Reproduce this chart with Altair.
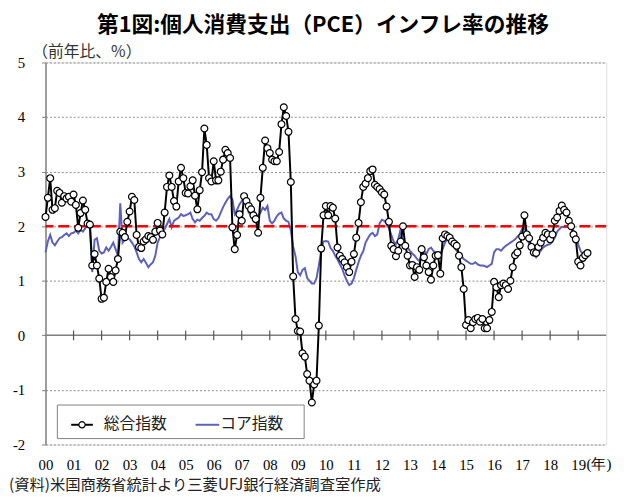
import altair as alt
import pandas as pd

# ---- data (monthly, Jan 2000 - May 2019), YoY %
headline = [
    2.17, 2.52, 2.88, 2.30, 2.33, 2.65, 2.61, 2.43, 2.55, 2.51, 2.54, 2.45,
    2.58, 2.39, 1.97, 2.24, 2.47, 2.30, 2.05, 2.03, 1.28, 1.49, 1.28, 1.04,
    0.67, 0.69, 0.98, 1.22, 1.07, 0.98, 1.19, 1.40, 1.90, 1.88, 1.80, 2.08,
    2.27, 2.54, 2.48, 1.84, 1.62, 1.60, 1.72, 1.76, 1.82, 1.80, 1.75, 1.90,
    2.06, 1.92, 1.85, 2.25, 2.72, 2.93, 2.72, 2.46, 2.36, 2.82, 3.07, 2.88,
    2.61, 2.60, 2.73, 2.84, 2.56, 2.31, 2.66, 2.99, 3.79, 3.49, 2.88, 2.82,
    3.19, 2.84, 2.84, 3.00, 3.22, 3.40, 3.34, 3.25, 1.98, 1.58, 1.84, 2.22,
    2.10, 2.55, 2.46, 2.37, 2.31, 2.20, 2.13, 1.88, 2.52, 3.07, 3.57, 3.43,
    3.34, 3.22, 3.19, 3.19, 3.36, 3.87, 4.18, 4.02, 3.73, 2.81, 1.08, 0.30,
    0.08, 0.07, -0.33, -0.39, -0.71, -0.83, -1.23, -0.90, -0.83, 0.18, 1.59, 2.20,
    2.37, 2.20, 2.37, 2.34, 2.14, 1.61, 1.46, 1.40, 1.34, 1.25, 1.16, 1.35,
    1.49, 1.79, 2.06, 2.44, 2.72, 2.78, 2.88, 3.01, 3.04, 2.76, 2.72, 2.68,
    2.62, 2.58, 2.36, 2.08, 1.64, 1.58, 1.45, 1.55, 1.72, 2.00, 1.64, 1.46,
    1.28, 1.29, 1.07, 1.25, 1.20, 1.58, 1.43, 1.28, 1.16, 1.02, 1.28, 1.46,
    1.47, 1.13, 1.78, 1.85, 1.82, 1.79, 1.72, 1.68, 1.64, 1.46, 1.25, 0.85,
    0.19, 0.28, 0.13, 0.24, 0.30, 0.32, 0.25, 0.30, 0.13, 0.13, 0.28, 0.43,
    0.98, 0.88, 0.70, 0.92, 0.95, 0.92, 0.85, 1.00, 1.25, 1.47, 1.52, 1.65,
    1.81, 2.20, 1.85, 1.78, 1.62, 1.52, 1.51, 1.62, 1.70, 1.79, 1.88, 1.85,
    1.76, 1.85, 2.10, 2.16, 2.28, 2.38, 2.30, 2.25, 2.10, 2.00, 1.85, 1.76,
    1.35, 1.28, 1.42, 1.47, 1.51,
]

core = [
    1.52, 1.72, 1.84, 1.70, 1.65, 1.72, 1.78, 1.80, 1.84, 1.87, 1.82, 1.87,
    1.88, 1.92, 1.87, 1.93, 1.90, 1.96, 2.02, 2.00, 1.16, 1.75, 1.78, 1.55,
    1.50, 1.52, 1.61, 1.55, 1.62, 1.70, 1.58, 1.46, 2.42, 1.70, 1.76, 1.78,
    1.76, 1.70, 1.63, 1.52, 1.40, 1.34, 1.40, 1.33, 1.25, 1.30, 1.34, 1.46,
    1.70, 1.80, 1.88, 1.95, 2.04, 2.13, 1.98, 2.10, 2.13, 2.16, 2.22, 2.19,
    2.20, 2.22, 2.25, 2.13, 2.07, 2.12, 2.10, 2.15, 2.19, 2.25, 2.22, 2.22,
    2.13, 2.10, 2.15, 2.25, 2.35, 2.43, 2.50, 2.55, 2.49, 2.22, 2.30, 2.40,
    2.46, 2.55, 2.40, 2.25, 2.20, 2.28, 2.22, 2.18, 2.25, 2.34, 2.30, 2.37,
    2.10, 2.05, 2.10, 2.18, 2.23, 2.25, 2.14, 2.10, 2.08, 1.92, 1.63, 1.45,
    1.16, 1.10, 1.20, 1.23, 1.05, 1.00, 0.95, 0.95, 1.05, 1.28, 1.55, 1.72,
    1.73, 1.72, 1.60, 1.55, 1.46, 1.39, 1.30, 1.22, 1.10, 1.00, 0.92, 0.95,
    1.05, 1.20, 1.34, 1.46, 1.54, 1.70, 1.78, 1.85, 1.88, 1.82, 1.85, 2.05,
    2.12, 2.10, 2.04, 1.96, 1.84, 1.72, 1.67, 1.76, 1.95, 1.73, 1.65, 1.61,
    1.55, 1.50, 1.46, 1.40, 1.36, 1.46, 1.55, 1.49, 1.58, 1.61, 1.55, 1.52,
    1.43, 1.50, 1.58, 1.70, 1.76, 1.72, 1.67, 1.61, 1.55, 1.52, 1.46, 1.40,
    1.37, 1.34, 1.31, 1.31, 1.34, 1.30, 1.28, 1.28, 1.27, 1.25, 1.28, 1.31,
    1.52, 1.58, 1.58, 1.55, 1.60, 1.64, 1.67, 1.70, 1.73, 1.76, 1.81, 1.85,
    1.95, 1.98, 1.82, 1.67, 1.58, 1.50, 1.43, 1.49, 1.55, 1.61, 1.64, 1.66,
    1.67, 1.72, 1.79, 1.90, 1.95, 1.99, 1.98, 1.99, 1.99, 1.98, 1.92, 1.85,
    1.67, 1.55, 1.49, 1.49, 1.55,
]

year_starts = [12 * k for k in range(20)]          # month index of each January
year_ticks = [12 * k for k in range(1, 20)]        # tick marks on the zero line
target = [2.0]
zero = [0.0]

title_text = "第1図:個人消費支出（PCE）インフレ率の推移"
y_title = "（前年比、%）"
series_names = ["総合指数", "コア指数"]
source_text = "(資料)米国商務省統計より三菱UFJ銀行経済調査室作成"
year_unit = "(年)"

df = pd.DataFrame({"m": list(range(len(headline))), "headline": headline, "core": core})
ticks_df = pd.DataFrame({"m": year_ticks, "lo": [-0.09] * len(year_ticks), "hi": [0.09] * len(year_ticks)})

SERIF = "Liberation Serif"
JP = "Noto Sans CJK JP"
BLUE = "#5B61BD"

x_scale = alt.Scale(domain=[0, 240], nice=False, zero=False)
y_scale = alt.Scale(domain=[-2, 5], nice=False, zero=False)

x_axis = alt.Axis(
    values=year_starts,
    labelExpr="(datum.value/12 < 10 ? '0' : '') + (datum.value/12)",
    grid=False, ticks=False, domain=False,
    labelFont=SERIF, labelFontSize=15, labelColor="#000",
    labelPadding=13, labelFlush=False, labelOverlap=False, title=None,
)
y_axis = alt.Axis(
    values=list(range(-2, 6)),
    labelExpr="'' + datum.value",
    grid=True, gridColor="#8c8c8c", gridDash=[2, 2], gridWidth=1,
    domainColor="#808080", domainWidth=1.5,
    tickColor="#808080", tickSize=4, tickWidth=1,
    labelFont=SERIF, labelFontSize=15, labelColor="#000", labelPadding=17,
    title=y_title, titleAngle=0, titleAlign="left", titleBaseline="bottom",
    titleX=-14, titleY=-3, titleFont=JP, titleFontSize=16,
    titleFontWeight="normal", titleColor="#333",
)


def X(field):
    return alt.X(field, type="quantitative", scale=x_scale, axis=x_axis)


def Y(field):
    return alt.Y(field, type="quantitative", scale=y_scale, axis=y_axis)


base = alt.Chart(df)

core_line = base.mark_line(color=BLUE, strokeWidth=2).encode(x=X("m"), y=Y("core"))

red_line = alt.Chart(pd.DataFrame({"v": target})).mark_rule(
    color="#FF0000", strokeDash=[11, 5], strokeWidth=2.5
).encode(y=Y("v"))

zero_line = alt.Chart(pd.DataFrame({"v": zero})).mark_rule(
    color="#7f7f7f", strokeWidth=1.5
).encode(y=Y("v"))

tick_marks = alt.Chart(ticks_df).mark_rule(color="#555", strokeWidth=1.2).encode(
    x=X("m"), y=Y("lo"), y2="hi"
)

head_line = base.mark_line(color="#000", strokeWidth=2).encode(x=X("m"), y=Y("headline"))
head_pts = base.mark_point(
    shape="circle", filled=True, fill="#fff", stroke="#000", strokeWidth=1.2,
    size=48, opacity=1
).encode(x=X("m"), y=Y("headline"))

# ---- legend (drawn by hand)
one = pd.DataFrame({"a": [0]})
leg_box = alt.Chart(one).mark_rect(fill="#fff", stroke="#808080", strokeWidth=1).encode(
    x=alt.value(12), x2=alt.value(262), y=alt.value(347), y2=alt.value(381)
)
leg_l1 = alt.Chart(one).mark_rule(color="#000", strokeWidth=2).encode(
    x=alt.value(26), x2=alt.value(48), y=alt.value(367)
)
leg_p1 = alt.Chart(one).mark_point(
    shape="circle", filled=True, fill="#fff", stroke="#000", strokeWidth=1.2, size=40, opacity=1
).encode(x=alt.value(37), y=alt.value(367))
leg_t1 = alt.Chart(pd.DataFrame({"t": [series_names[0]]})).mark_text(
    font=JP, fontSize=16, align="left", baseline="middle", color="#222"
).encode(x=alt.value(59), y=alt.value(366), text="t:N")
leg_l2 = alt.Chart(one).mark_rule(color=BLUE, strokeWidth=2).encode(
    x=alt.value(152), x2=alt.value(176), y=alt.value(367)
)
leg_t2 = alt.Chart(pd.DataFrame({"t": [series_names[1]]})).mark_text(
    font=JP, fontSize=16, align="left", baseline="middle", color="#222"
).encode(x=alt.value(177), y=alt.value(366), text="t:N")

# ---- annotations outside the plot
unit_txt = alt.Chart(pd.DataFrame({"t": [year_unit]})).mark_text(
    font=SERIF, fontSize=15, align="left", baseline="top", color="#000"
).encode(x=alt.value(548), y=alt.value(400), text="t:N")
src_txt = alt.Chart(pd.DataFrame({"t": [source_text]})).mark_text(
    font=JP, fontSize=15.5, align="left", baseline="middle", color="#222"
).encode(x=alt.value(-37), y=alt.value(428), text="t:N")

chart = alt.layer(
    core_line, red_line, zero_line, tick_marks, head_line, head_pts,
    leg_box, leg_l1, leg_p1, leg_t1, leg_l2, leg_t2, unit_txt, src_txt,
).properties(
    width=568, height=387,
    padding={"left": 38, "top": 52, "right": 16, "bottom": 52},
    autosize=alt.AutoSizeParams(type="none"),
    title=alt.TitleParams(
        title_text, font=JP, fontSize=22, fontWeight="bold", anchor="middle",
        frame="group", offset=7, color="#000", dx=-3,
    ),
).configure_view(stroke="#7f7f7f", strokeWidth=1.5).configure(background="#fff")

chart.save("out.html", embed_options={"renderer": "svg", "actions": False})
